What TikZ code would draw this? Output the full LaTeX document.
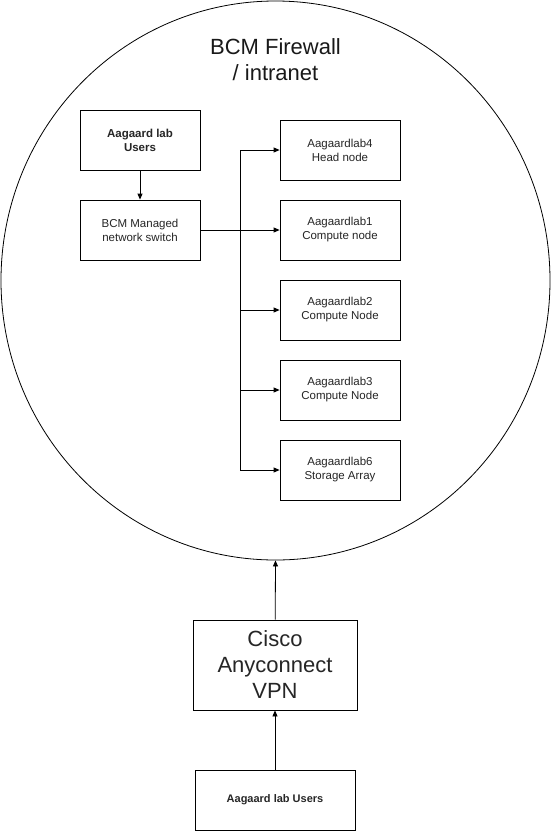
\documentclass[tikz,border=0pt]{standalone}
\usepackage{fontspec}
\setmainfont{Liberation Sans}
\usetikzlibrary{arrows.meta,shapes.geometric}
\begin{document}
\begin{tikzpicture}[x=1pt,y=-1pt,
  box/.style={draw=black,line width=0.8pt,fill=white,inner sep=0pt,align=center,text=black!85},
  small/.style={font=\fontsize{11.5}{14}\selectfont},
  big/.style={font=\fontsize{22}{26}\selectfont},
  conn/.style={draw=black,line width=0.8pt,-{Triangle[length=6pt,width=5pt]}},
  line/.style={draw=black,line width=0.8pt}]
\useasboundingbox (0,0) rectangle (551,831);
\node[draw=black,line width=0.8pt,ellipse,minimum width=549pt,minimum height=559pt,inner sep=0pt] (fw) at (275.5,280.5) {};
\node[big,align=center,text=black!90] (fwlabel) at (275.5,60) {BCM Firewall\\/ intranet};
\node[box,small,font=\fontsize{11.5}{14}\selectfont\bfseries,minimum width=120pt,minimum height=60pt] (users) at (140,140) {Aagaard lab\\Users};
\node[box,small,minimum width=120pt,minimum height=60pt] (switch) at (140,230) {BCM Managed\\network switch};
\node[box,small,minimum width=120pt,minimum height=60pt] (n4) at (340,150) {Aagaardlab4\\Head node};
\node[box,small,minimum width=120pt,minimum height=60pt] (n1) at (340,230) {Aagaardlab1\\Compute node};
\node[box,small,minimum width=120pt,minimum height=60pt] (n2) at (340,310) {Aagaardlab2\\Compute Node};
\node[box,small,minimum width=120pt,minimum height=60pt] (n3) at (340,390) {Aagaardlab3\\Compute Node};
\node[box,small,minimum width=120pt,minimum height=60pt] (n6) at (340,470) {Aagaardlab6\\Storage Array};
\node[box,big,minimum width=164pt,minimum height=90pt] (vpn) at (275,665) {Cisco\\Anyconnect\\VPN};
\node[box,small,font=\fontsize{11}{14}\selectfont\bfseries,minimum width=160pt,minimum height=60pt] (ext) at (275,800) {Aagaard lab Users};
\coordinate (bustop) at (240,150);
\coordinate (busbot) at (240,470);
\draw[conn] (users) -- (switch);
\draw[conn] (switch) -- (n1);
\draw[line] (bustop) -- (busbot);
\draw[conn] (bustop) -- (n4);
\draw[conn] (240,310) -- (n2);
\draw[conn] (240,390) -- (n3);
\draw[conn] (busbot) -- (n6);
\draw[conn] (ext) -- (vpn);
\draw[conn] (vpn) -- (fw.south);
\end{tikzpicture}
\end{document}
